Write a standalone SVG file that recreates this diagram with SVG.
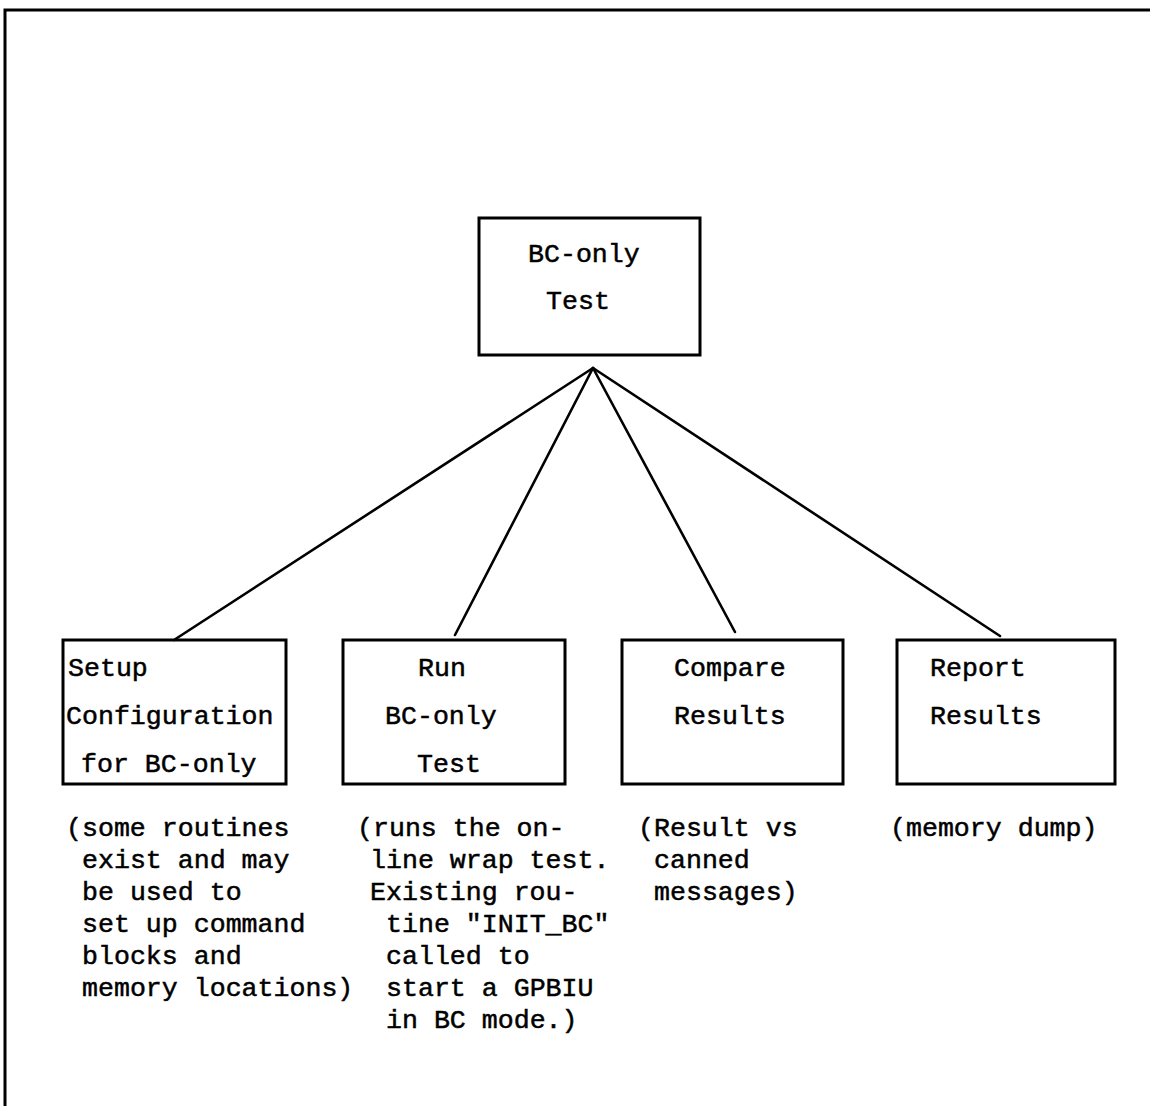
<svg xmlns="http://www.w3.org/2000/svg" width="1153" height="1106" viewBox="0 0 1153 1106">
  <style>
    .box { fill: none; stroke: #000; stroke-width: 3; }
    .edge { stroke: #000; stroke-width: 2.6; fill: none; stroke-linecap: round; }
    .frame { stroke: #000; stroke-width: 3; fill: none; }
    text { font-family: "Liberation Mono", "DejaVu Sans Mono", monospace; font-size: 26.6px; fill: #000; stroke: #000; stroke-width: 0.5; }
  </style>
  <rect width="1153" height="1106" fill="#fff"/>

  <!-- page frame -->
  <path class="frame" d="M5,1106 V10 H1150"/>

  <!-- connectors -->
  <g id="connectors">
    <line class="edge" x1="593" y1="368" x2="174" y2="640"/>
    <line class="edge" x1="593" y1="368" x2="455" y2="635"/>
    <line class="edge" x1="593" y1="368" x2="735" y2="632"/>
    <line class="edge" x1="593" y1="368" x2="1000" y2="636"/>
  </g>

  <g id="root">
    <rect class="box" x="479" y="218" width="221" height="137"/>
    <text x="528" y="262">BC-only</text>
    <text x="546" y="309">Test</text>
  </g>

  <g id="setup">
    <rect class="box" x="63" y="640" width="223" height="144"/>
    <text x="68" y="676">Setup</text>
    <text x="66" y="724">Configuration</text>
    <text x="81" y="772">for BC-only</text>
  </g>

  <g id="run">
    <rect class="box" x="343" y="640" width="222" height="144"/>
    <text x="418" y="676">Run</text>
    <text x="385" y="724">BC-only</text>
    <text x="417" y="772">Test</text>
  </g>

  <g id="compare">
    <rect class="box" x="622" y="640" width="221" height="144"/>
    <text x="674" y="676">Compare</text>
    <text x="674" y="724">Results</text>
  </g>

  <g id="report">
    <rect class="box" x="897" y="640" width="218" height="144"/>
    <text x="930" y="676">Report</text>
    <text x="930" y="724">Results</text>
  </g>

  <!-- notes under each step -->
  <g id="note-setup">
    <text x="66" y="836">(some routines</text>
    <text x="82" y="868">exist and may</text>
    <text x="82" y="900">be used to</text>
    <text x="82" y="932">set up command</text>
    <text x="82" y="964">blocks and</text>
    <text x="82" y="996">memory locations)</text>
  </g>
  <g id="note-run">
    <text x="357" y="836">(runs the on-</text>
    <text x="370" y="868">line wrap test.</text>
    <text x="370" y="900">Existing rou-</text>
    <text x="386" y="932">tine "INIT_BC"</text>
    <text x="386" y="964">called to</text>
    <text x="386" y="996">start a GPBIU</text>
    <text x="386" y="1028">in BC mode.)</text>
  </g>
  <g id="note-compare">
    <text x="638" y="836">(Result vs</text>
    <text x="654" y="868">canned</text>
    <text x="654" y="900">messages)</text>
  </g>
  <g id="note-report">
    <text x="890" y="836">(memory dump)</text>
  </g>
</svg>
